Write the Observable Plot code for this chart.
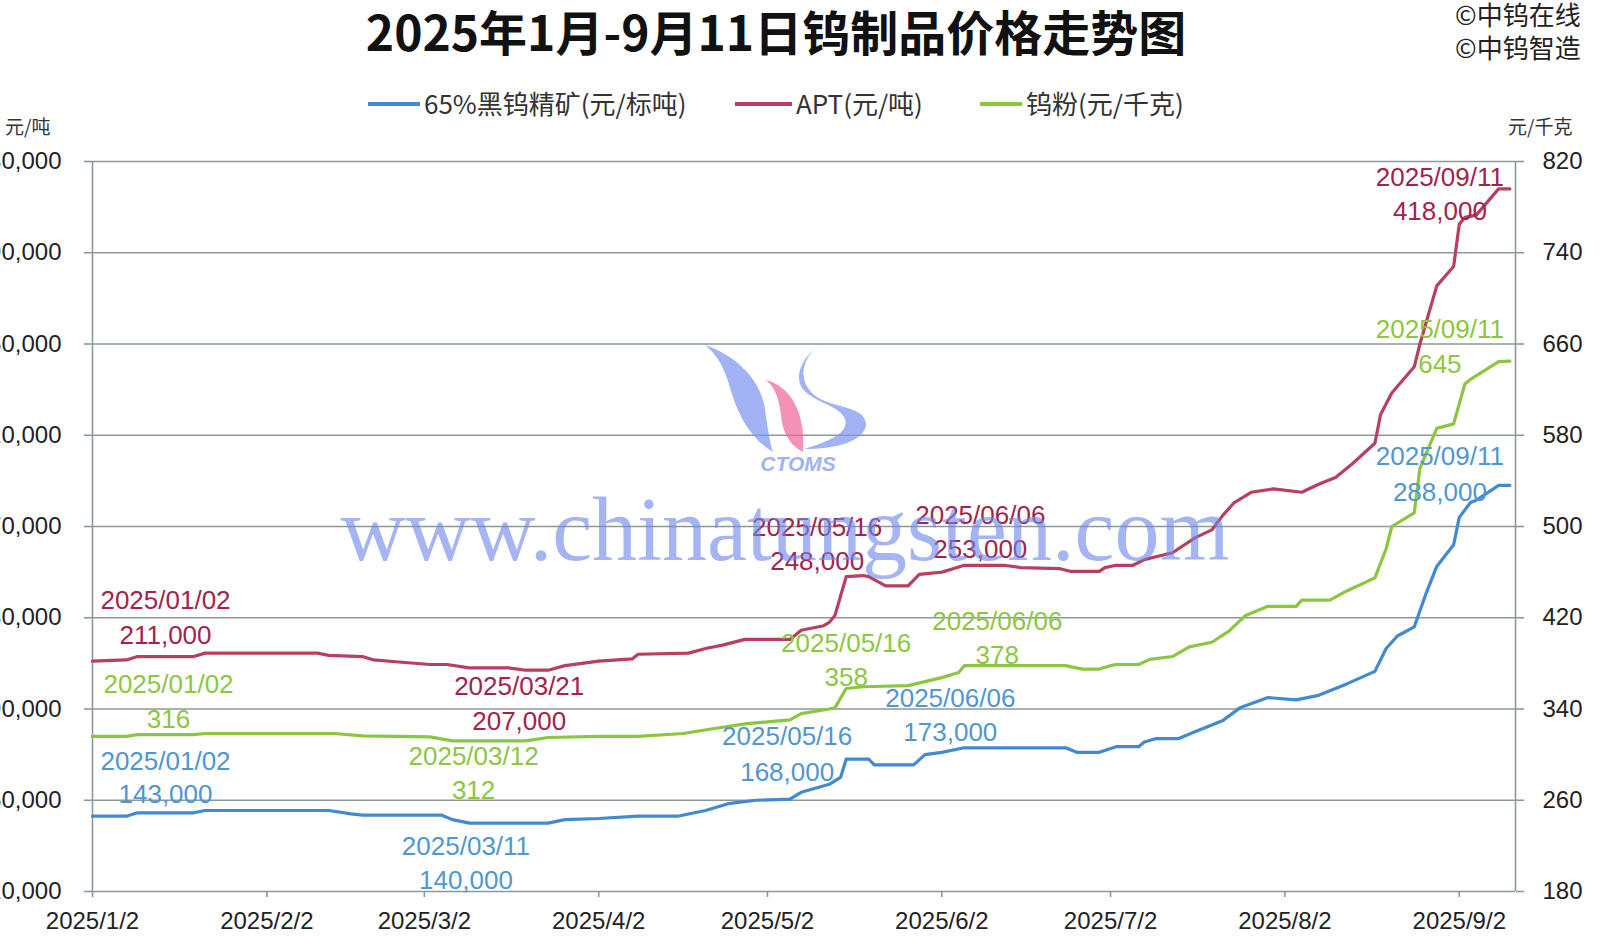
<!DOCTYPE html>
<html><head><meta charset="utf-8">
<script src="https://cdn.jsdelivr.net/npm/d3@7"></script>
<script src="https://cdn.jsdelivr.net/npm/@observablehq/plot@0.6"></script>
<style>
body{margin:0;background:#fff;}
#wrap{position:relative;width:1601px;height:941px;overflow:hidden;background:#fff;font-family:"Noto Sans CJK SC","Noto Sans",sans-serif;}
.abs{position:absolute;white-space:nowrap;line-height:1;}
#wrap svg.plot{position:absolute;left:0;top:0;}
</style></head><body><div id="wrap"></div>
<script>
// ---------------- DATA ----------------
const chartTitle = "2025年1月-9月11日钨制品价格走势图";
const seriesNames = ["65%黑钨精矿(元/标吨)", "APT(元/吨)", "钨粉(元/千克)"];
const leftUnit = "元/吨";
const rightUnit = "元/千克";
const sourceLines = ["©中钨在线", "©中钨智造"];
const watermarkText = "www.chinatungsten.com";

const xTickDates = ["2025-01-02","2025-02-02","2025-03-02","2025-04-02","2025-05-02","2025-06-02","2025-07-02","2025-08-02","2025-09-02"];
const leftTicks = [110000,150000,190000,230000,270000,310000,350000,390000,430000];
const rightTicks = [180,260,340,420,500,580,660,740,820];

const oreDates = ["2025-01-02","2025-01-08","2025-01-10","2025-01-20","2025-01-22","2025-02-13","2025-02-17","2025-02-19","2025-03-05","2025-03-07","2025-03-10","2025-03-24","2025-03-27","2025-04-02","2025-04-09","2025-04-16","2025-04-21","2025-04-25","2025-04-30","2025-05-06","2025-05-08","2025-05-13","2025-05-15","2025-05-16","2025-05-20","2025-05-21","2025-05-28","2025-05-30","2025-06-02","2025-06-06","2025-06-24","2025-06-26","2025-06-30","2025-07-03","2025-07-07","2025-07-08","2025-07-10","2025-07-14","2025-07-17","2025-07-22","2025-07-25","2025-07-30","2025-08-04","2025-08-08","2025-08-13","2025-08-18","2025-08-20","2025-08-22","2025-08-25","2025-08-27","2025-08-29","2025-09-01","2025-09-02","2025-09-04","2025-09-05","2025-09-09","2025-09-11"];
const oreValues = [143000,143000,144500,144500,145500,145500,144000,143500,143500,141500,140000,140000,141500,142000,143000,143000,145500,148500,150000,150500,153500,157000,160000,168000,168000,165500,165500,170000,171000,173000,173000,171000,171000,173500,173500,175500,177000,177000,180000,185000,190500,195000,194000,196000,201000,206500,216500,222000,226000,240000,252500,262000,274000,280500,281500,288000,288000];

const aptDates = ["2025-01-02","2025-01-08","2025-01-10","2025-01-20","2025-01-22","2025-02-11","2025-02-13","2025-02-19","2025-02-21","2025-02-26","2025-03-03","2025-03-06","2025-03-10","2025-03-17","2025-03-20","2025-03-24","2025-03-27","2025-04-02","2025-04-08","2025-04-09","2025-04-18","2025-04-21","2025-04-24","2025-04-28","2025-05-06","2025-05-08","2025-05-12","2025-05-13","2025-05-14","2025-05-16","2025-05-19","2025-05-20","2025-05-23","2025-05-27","2025-05-29","2025-06-02","2025-06-04","2025-06-06","2025-06-13","2025-06-16","2025-06-23","2025-06-25","2025-06-30","2025-07-01","2025-07-03","2025-07-06","2025-07-08","2025-07-13","2025-07-17","2025-07-20","2025-07-22","2025-07-24","2025-07-27","2025-07-31","2025-08-05","2025-08-08","2025-08-11","2025-08-14","2025-08-18","2025-08-19","2025-08-21","2025-08-25","2025-08-26","2025-08-29","2025-09-01","2025-09-02","2025-09-03","2025-09-05","2025-09-09","2025-09-11"];
const aptValues = [211000,211500,213000,213000,214500,214500,213500,213000,211500,210500,209500,209500,208000,208000,207000,207000,209000,211000,212000,214000,214500,216500,218000,220500,220500,224500,226500,228000,231000,248000,248500,248000,244000,244000,249000,250000,251500,253000,253000,252000,251500,250300,250300,252000,253000,253000,255500,258500,265000,268500,275000,280500,285000,286500,285000,288500,291500,297500,306500,319000,328500,340000,350000,375500,384000,402500,405500,406500,418000,418000];

const powderDates = ["2025-01-02","2025-01-08","2025-01-10","2025-01-20","2025-01-22","2025-02-14","2025-02-19","2025-03-03","2025-03-07","2025-03-20","2025-03-24","2025-04-02","2025-04-09","2025-04-17","2025-04-22","2025-04-28","2025-05-06","2025-05-08","2025-05-13","2025-05-14","2025-05-16","2025-05-19","2025-05-27","2025-05-30","2025-06-02","2025-06-05","2025-06-06","2025-06-24","2025-06-27","2025-06-30","2025-07-02","2025-07-03","2025-07-07","2025-07-09","2025-07-13","2025-07-16","2025-07-20","2025-07-23","2025-07-26","2025-07-30","2025-08-04","2025-08-05","2025-08-10","2025-08-13","2025-08-18","2025-08-20","2025-08-21","2025-08-25","2025-08-26","2025-08-29","2025-09-01","2025-09-03","2025-09-04","2025-09-09","2025-09-11"];
const powderValues = [316,316,317.5,317.5,318.5,318.5,316.5,315.5,312,312,315,316,316,318.5,322.5,327,330.5,336,340,341,358,359.5,360.5,364,367.5,372,378,378,375,375,378,379,379,383.5,386,394.5,398.5,408,422,430,430,435.5,435.5,443.5,455,480.5,500,512,551,586,590,625,629,644.5,645];

// annotated points: series index, date, value
const annSeries = [1,1,1,1,1, 2,2,2,2,2, 0,0,0,0,0];
const annDates  = ["2025-01-02","2025-03-21","2025-05-16","2025-06-06","2025-09-11",
                   "2025-01-02","2025-03-12","2025-05-16","2025-06-06","2025-09-11",
                   "2025-01-02","2025-03-11","2025-05-16","2025-06-06","2025-09-11"];
const annValues = [211000,207000,248000,253000,418000, 316,312,358,378,645, 143000,140000,168000,173000,288000];

// ---------------- STYLE / LAYOUT ----------------
const colors = ["#4189d0", "#b8405e", "#8cc63f"];
const labelColors = ["#4f96d2", "#a3234b", "#8dc63f"];
const gridColor = "#8c9999";
const numFont = "Liberation Sans, Arial, sans-serif";
// label offsets (dx, dy of date line / value line) in pixels
const annOffsets = [
  [73,-60,-25],[-12,16,51],[-29,-49,-15],[16,-50,-16],[-70,-11,23],
  [76,-52,-17],[-7,16,50],[0,-45,-11],[33,-44,-10],[-70,-31,4],
  [73,-55,-22],[-9,24,58],[-59,-23,13],[-14,-49,-15],[-70,-29,7]
];

const parse = d3.utcParse("%Y-%m-%d");
const toLeft = v => 110000 + (v - 180) * 500;   // right axis -> left axis units
const fromLeft = v => (v - 110000) / 500 + 180;
const rows = (dates, values, f = v => v) => dates.map((d, i) => ({date: parse(d), value: f(values[i])}));
const seriesRows = [rows(oreDates, oreValues), rows(aptDates, aptValues), rows(powderDates, powderValues, toLeft)];

const fmtDate = d => `${d.getUTCFullYear()}/${d.getUTCMonth() + 1}/${d.getUTCDate()}`;
const fmtDate2 = d => d3.utcFormat("%Y/%m/%d")(d);

const annMarks = [];
annDates.forEach((ds, i) => {
  const s = annSeries[i];
  const datum = {date: parse(ds), value: s === 2 ? toLeft(annValues[i]) : annValues[i], raw: annValues[i]};
  const [dx, dy1, dy2] = annOffsets[i];
  const common = {x: "date", y: "value", dx, fill: labelColors[s], fontSize: 26, fontFamily: numFont,
                  textAnchor: "middle", lineAnchor: "middle", clip: false};
  annMarks.push(Plot.text([datum], {...common, dy: dy1, text: d => fmtDate2(d.date)}));
  annMarks.push(Plot.text([datum], {...common, dy: dy2, text: d => s === 2 ? String(d.raw) : d3.format(",")(d.raw)}));
});

const chart = Plot.plot({
  width: 1601, height: 941,
  marginLeft: 92, marginRight: 86, marginTop: 161, marginBottom: 50,
  style: {background: "transparent", fontFamily: numFont},
  x: {type: "utc", domain: [parse("2025-01-02"), parse("2025-09-12")]},
  y: {domain: [110000, 430000]},
  marks: [
    Plot.gridY({ticks: leftTicks, stroke: gridColor, strokeOpacity: 1, strokeWidth: 1.6}),
    Plot.ruleX([parse("2025-01-02"), parse("2025-09-12")], {stroke: gridColor, strokeWidth: 1.6}),
    Plot.axisY({ticks: leftTicks, anchor: "left", tickFormat: d3.format(","), tickSize: 8, tickPadding: 23,
                fontSize: 24, stroke: gridColor, strokeWidth: 1.6, fill: "#222", label: null}),
    Plot.axisY({ticks: leftTicks, anchor: "right", tickFormat: d => String(fromLeft(d)), tickSize: 8, tickPadding: 19,
                fontSize: 24, stroke: gridColor, strokeWidth: 1.6, fill: "#222", label: null}),
    Plot.axisX({ticks: xTickDates.map(parse), tickFormat: fmtDate, tickSize: 6, tickPadding: 14,
                fontSize: 24, stroke: gridColor, strokeWidth: 1.6, fill: "#222", label: null}),
    ...seriesRows.map((r, i) => Plot.line(r, {x: "date", y: "value", stroke: colors[[0,1,2][i]], strokeWidth: 3.2, strokeLinejoin: "round"})),
    ...annMarks
  ]
});

const wrap = document.getElementById("wrap");
wrap.appendChild(chart);

function addDiv(text, css) {
  const el = document.createElement("div");
  el.className = "abs";
  el.textContent = text;
  Object.assign(el.style, css);
  wrap.appendChild(el);
  return el;
}
addDiv(chartTitle, {left: "776px", top: "6px", transform: "translateX(-50%)", fontSize: "48px", fontWeight: "bold", color: "#111"});
addDiv(sourceLines[0], {left: "1455px", top: "1px", fontSize: "26px", color: "#222"});
addDiv(sourceLines[1], {left: "1455px", top: "34px", fontSize: "26px", color: "#222"});
addDiv(leftUnit, {left: "5px", top: "116px", fontSize: "19px", color: "#333"});
addDiv(rightUnit, {left: "1508px", top: "116px", fontSize: "19px", color: "#333"});

// legend
const legendPos = [[368, 424], [735, 796], [980, 1026]];
seriesNames.forEach((name, i) => {
  const ln = document.createElement("div");
  ln.className = "abs";
  Object.assign(ln.style, {left: legendPos[i][0] + "px", top: "102px", width: (legendPos[i][1] - legendPos[i][0] - 4) + "px", height: "4px", background: colors[i]});
  wrap.appendChild(ln);
  addDiv(name, {left: legendPos[i][1] + "px", top: "90px", fontSize: "26px", color: "#333"});
});

// watermark & logo overlay (decoration)
const ns = "http://www.w3.org/2000/svg";
const ov = document.createElementNS(ns, "svg");
ov.setAttribute("width", 1601); ov.setAttribute("height", 941);
ov.style.cssText = "position:absolute;left:0;top:0;pointer-events:none;";
ov.innerHTML = `
<g opacity="0.72">
  <path d="M705,345 C738,356 762,382 765,410 C768,430 770,444 773,452 C756,442 745,426 738,410 C728,388 728,364 705,345 Z" fill="#7e95f2"/>
  <path d="M766,380 C790,386 806,412 803,452 C790,446 782,431 781,415 C779,400 776,388 766,380 Z" fill="#f2679b"/>
  <path d="M824,342 C804,354 796,376 812,393 C830,410 866,404 866,425 C864,442 834,449 804,449 C830,441 849,433 845,419 C840,403 799,401 799,378 C799,362 812,350 824,342 Z" fill="#7e95f2"/>
  <text x="798" y="471" text-anchor="middle" font-family="Liberation Sans" font-weight="bold" font-style="italic" font-size="21" fill="#7e95f2">CTOMS</text>
</g>
<text x="785" y="560" text-anchor="middle" font-family="Liberation Serif, DejaVu Serif, serif" font-size="90" fill="#6f89ee" opacity="0.62">${watermarkText}</text>`;
wrap.appendChild(ov);
</script></body></html>
